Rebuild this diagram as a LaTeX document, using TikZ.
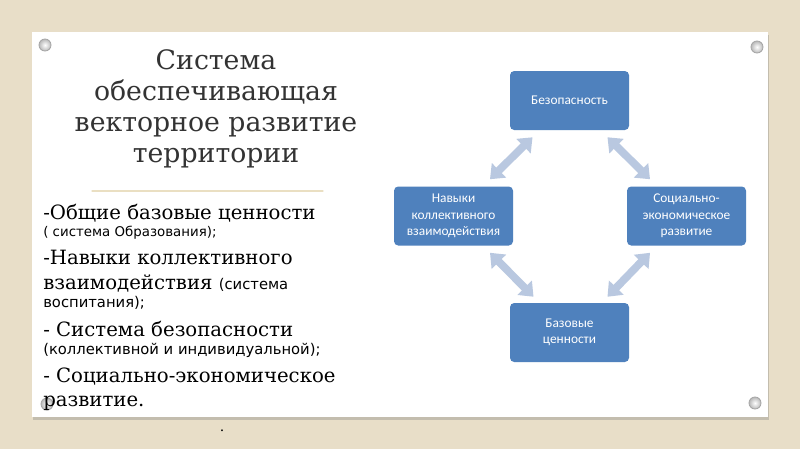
\documentclass[tikz,border=0pt]{standalone}
\usepackage{fontspec}
\setmainfont{DejaVu Serif}
\setsansfont{DejaVu Sans}
\newfontfamily\boxfont{Carlito}
\usetikzlibrary{arrows.meta}
\usetikzlibrary{shadows}

\definecolor{canvas}{HTML}{E8DEC8}
\definecolor{boxblue}{HTML}{4F81BD}
\definecolor{arrowblue}{HTML}{B9C8E0}
\definecolor{titlegray}{HTML}{333333}
\definecolor{rulebeige}{HTML}{EADFC2}

\tikzset{
  bluebox/.style={draw=none, fill=boxblue, rounded corners=3pt, text=white,
    minimum width=119*0.025cm, minimum height=59*0.025cm, align=center,
    font=\boxfont\fontsize{9.5}{11.7}\selectfont},
  dblarrow/.style={draw=arrowblue, line width=5.5pt,
    {Triangle[width=14pt,length=9pt]}-{Triangle[width=14pt,length=9pt]}},
  bigline/.style={anchor=base west, inner sep=0pt,
    font=\fontsize{14}{16}\selectfont},
  smallline/.style={anchor=base west, inner sep=0pt,
    font=\sffamily\fontsize{9.5}{11}\selectfont},
  pin/.style={draw=gray!70, line width=0.6pt, inner color=white, outer color=gray!55}
}

\begin{document}
\begin{tikzpicture}[x=0.025cm, y=-0.025cm, line cap=round, line join=round]
  \useasboundingbox (0,0) rectangle (800,449);
  \fill[canvas] (0,0) rectangle (800,449);
  % card
  \fill[white, drop shadow={shadow xshift=1pt, shadow yshift=-2pt, opacity=0.35}]
    (32,32) rectangle (768,417);
  \shade[pin] (45,45) circle (6);
  \shade[pin] (757,47) circle (6);
  \shade[pin] (755,403) circle (6);
  \shade[pin] (47,404) circle (6);

  % title
  \node[text=titlegray, align=center, font=\fontsize{19}{22}\selectfont]
    (title) at (216,109) {Система\\обеспечивающая\\векторное развитие\\территории};
  \draw[rulebeige, line width=0.8pt] (92,191) -- (323,191);

  % list
  \node[bigline]   (l1) at (43,219) {-Общие базовые ценности};
  \node[smallline] (l2) at (43,236) {( система Образования);};
  \node[bigline]   (l3) at (43,264) {-Навыки коллективного};
  \node[bigline]   (l4) at (43,289) {взаимодействия \sffamily\fontsize{10.5}{11}\selectfont(система};
  \node[smallline, font=\sffamily\fontsize{10.5}{11}\selectfont] (l5) at (43,307) {воспитания);};
  \node[bigline]   (l6) at (43,336) {- Система безопасности};
  \node[smallline, font=\sffamily\fontsize{10.5}{11}\selectfont] (l7) at (43,354) {(коллективной и индивидуальной);};
  \node[bigline]   (l8) at (43,382) {- Социально-экономическое};
  \node[bigline]   (l9) at (43,406) {развитие.};
  \node[inner sep=0pt, font=\fontsize{10}{12}\selectfont] (dot) at (222,431) {.};

  % diagram
  \node[bluebox] (bez) at (569.5,100.5) {Безопасность};
  \node[bluebox] (nav) at (453.5,216) {Навыки\\коллективного\\взаимодействия};
  \node[bluebox] (soc) at (686.5,216) {Социально-\\экономическое\\развитие};
  \node[bluebox] (baz) at (569.5,332.5) {Базовые\\ценности};

  \draw[dblarrow] ([shift={(36.5,-7)}]nav.north) -- ([shift={(-37,7)}]bez.south);
  \draw[dblarrow] ([shift={(-36.5,-7)}]soc.north) -- ([shift={(38,7)}]bez.south);
  \draw[dblarrow] ([shift={(36.5,7)}]nav.south) -- ([shift={(-36,-6)}]baz.north);
  \draw[dblarrow] ([shift={(-36.5,7)}]soc.south) -- ([shift={(38,-6)}]baz.north);
\end{tikzpicture}
\end{document}
